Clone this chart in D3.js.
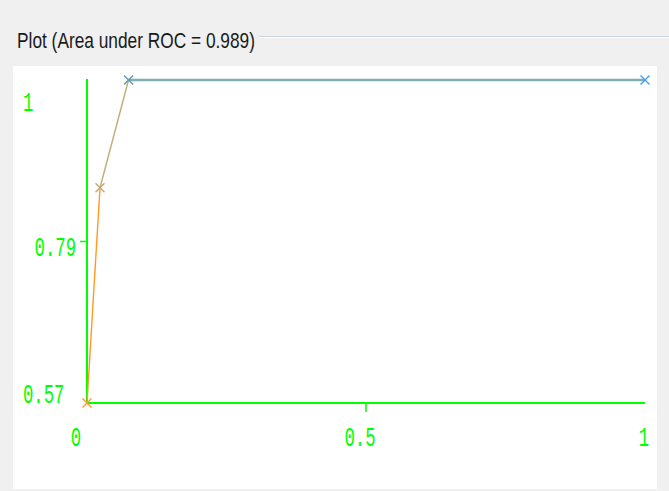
<!DOCTYPE html>
<html><head><meta charset="utf-8">
<script src="https://cdn.jsdelivr.net/npm/d3@7"></script>
<style>html,body{margin:0;padding:0;background:#f0f0f0;}svg{display:block;}</style>
</head><body>
<script>
// Data
const fpr = [0, 0.0233, 0.0744, 1];
const tpr = [4/7, 0.857, 1, 1];
const pointColors = ["#ff9a30", "#c4a772", "#5f9cb0", "#3d9ff5"];
const segmentColors = ["#ff9a1e", "#c2ab78", "#6a9faa"];
const xTickValues = [0, 0.5, 1];
const xTickLabels = ["0", "0.5", "1"];
const yTickValues = [4/7, (4/7 + 1) / 2, 1];
const yTickLabels = ["0.57", "0.79", "1"];
const titleText = "Plot (Area under ROC = 0.989)";

const W = 669, H = 491;
const svg = d3.select("body").append("svg").attr("width", W).attr("height", H);
svg.append("rect").attr("width", W).attr("height", H).attr("fill", "#f0f0f0");

// title + etched line
svg.append("text").attr("x", 17).attr("y", 48).text(titleText)
  .attr("font-family", "Liberation Sans, Arial, sans-serif").attr("font-size", 21.5)
  .attr("textLength", 238).attr("lengthAdjust", "spacingAndGlyphs").attr("fill", "#1a1a1a");
svg.append("line").attr("x1", 259).attr("x2", W).attr("y1", 36.5).attr("y2", 36.5).attr("stroke", "#c9d6df").attr("stroke-width", 1);
svg.append("line").attr("x1", 259).attr("x2", W).attr("y1", 37.5).attr("y2", 37.5).attr("stroke", "#ffffff").attr("stroke-width", 1);

// white panel
svg.append("rect").attr("x", 13).attr("y", 66).attr("width", 644).attr("height", 423).attr("fill", "#ffffff");

const x = d3.scaleLinear().domain([0, 1]).range([87, 645]);
const y = d3.scaleLinear().domain([4/7, 1]).range([403, 80]);
const green = "#00ff00";

// axes
const g = svg.append("g");
g.append("line").attr("x1", x(0)).attr("x2", x(0)).attr("y1", y(1) - 1).attr("y2", y(4/7)).attr("stroke", green).attr("stroke-width", 2);
g.append("line").attr("x1", x(0)).attr("x2", x(1)).attr("y1", y(4/7)).attr("y2", y(4/7)).attr("stroke", green).attr("stroke-width", 2);
// middle ticks
g.append("line").attr("x1", x(0.5)).attr("x2", x(0.5)).attr("y1", y(4/7)).attr("y2", y(4/7) + 9).attr("stroke", green).attr("stroke-width", 1.5);
g.append("line").attr("x1", x(0) - 7).attr("x2", x(0)).attr("y1", y(yTickValues[1])).attr("y2", y(yTickValues[1])).attr("stroke", green).attr("stroke-width", 1.5);

const fontF = "Liberation Mono, DejaVu Sans Mono, monospace";
function label(px, py, txt, anchor) {
  const t = svg.append("g").attr("transform", `translate(${px},${py}) scale(0.64,1)`);
  t.append("text").text(txt).attr("text-anchor", anchor)
    .attr("font-family", fontF).attr("font-size", 27).attr("fill", green);
}
// x labels
xTickValues.forEach((v, i) => {
  label(x(v) - 6 + (i === 0 ? -5 : 0) + (i === 2 ? 5 : 0), 446, xTickLabels[i], "middle");
});
// y labels
yTickValues.forEach((v, i) => {
  if (i === 1) label(76, y(v) + 14, yTickLabels[i], "end");
  else if (i === 0) label(23, y(v), yTickLabels[i], "start");
  else label(23, y(v) + 31, yTickLabels[i], "start");
});

// curve segments
for (let i = 0; i < fpr.length - 1; i++) {
  if (i === 2) {
    svg.append("line").attr("x1", x(fpr[i])).attr("y1", y(tpr[i])).attr("x2", x(fpr[i+1])).attr("y2", y(tpr[i+1]))
      .attr("stroke", "#bdd5da").attr("stroke-width", 3);
  }
  svg.append("line").attr("x1", x(fpr[i])).attr("y1", y(tpr[i])).attr("x2", x(fpr[i+1])).attr("y2", y(tpr[i+1]))
    .attr("stroke", segmentColors[i]).attr("stroke-width", i === 2 ? 1.6 : 1.4);
}
// markers
fpr.forEach((v, i) => {
  const cx = x(v), cy = y(tpr[i]), s = 4.5;
  svg.append("path").attr("d", `M${cx-s},${cy-s}L${cx+s},${cy+s}M${cx-s},${cy+s}L${cx+s},${cy-s}`)
    .attr("stroke", pointColors[i]).attr("stroke-width", 1.4).attr("fill", "none");
});
</script>
</body></html>
